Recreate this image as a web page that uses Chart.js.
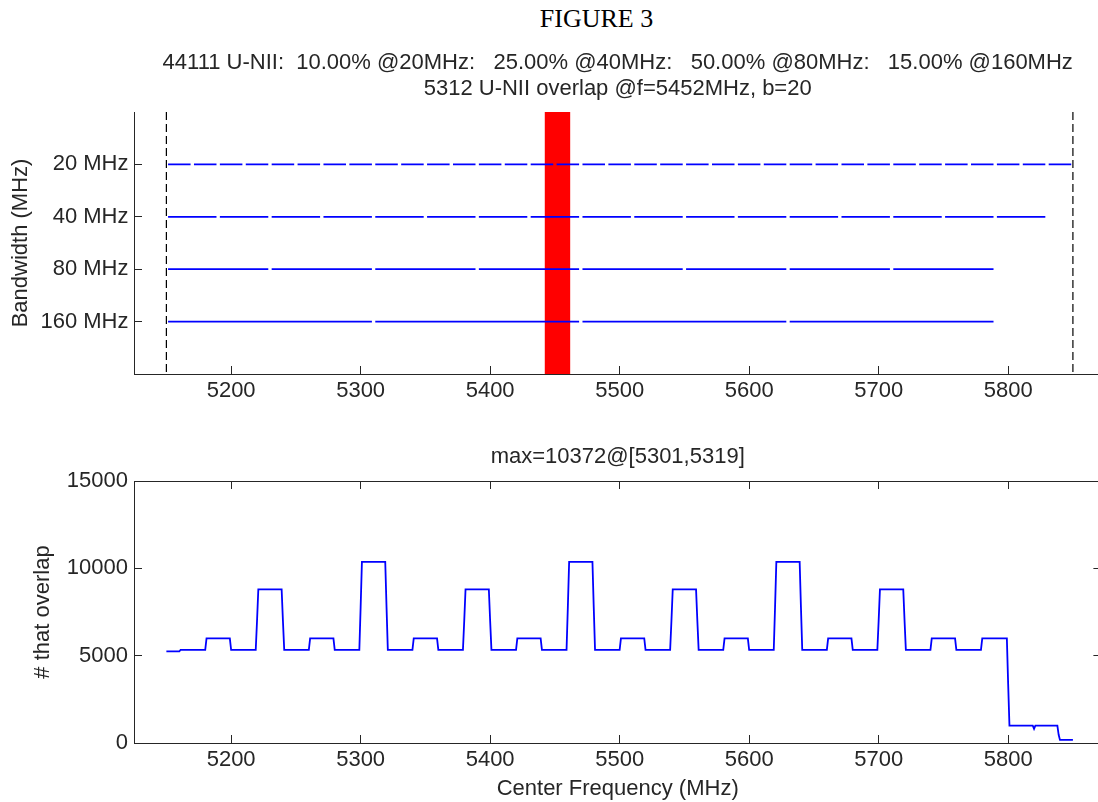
<!DOCTYPE html>
<html>
<head>
<meta charset="utf-8">
<title>FIGURE 3</title>
<script src="https://cdn.jsdelivr.net/npm/chart.js@4.4.1/dist/chart.umd.min.js"></script>
<style>
  html, body { margin: 0; padding: 0; background: #fff; overflow: hidden; }
  body { width: 1098px; height: 802px; position: relative; }
  #figTitle {
    position: absolute; left: 0; top: 4px; width: 1193px;
    text-align: center; color: #000;
    font: 26px/30px "Liberation Serif", "Times New Roman", serif;
  }
  .panel { position: absolute; left: 0; width: 1110px; }
  #bwPanel { top: 0; height: 410px; }
  #ovPanel { top: 410px; height: 392px; }
</style>
</head>
<body>
<div id="figTitle">FIGURE 3</div>
<div class="panel" id="bwPanel"><canvas id="bwChart"></canvas></div>
<div class="panel" id="ovPanel"><canvas id="ovChart"></canvas></div>

<script>
// ---- channel plan -------------------------------------------------------
const bandLabels = ["20 MHz", "40 MHz", "80 MHz", "160 MHz"];
const bandWidths = [20, 40, 80, 160];
const bandShare = [10, 25, 50, 15];          // % of combos per bandwidth
const totalCombos = 44111;
const overlapTotal = 5312;

// lower edge of each channel in the four rows (MHz)
const chan20 = [5150, 5170, 5190, 5210, 5230, 5250, 5270, 5290, 5310, 5330,
                5350, 5370, 5390, 5410, 5430, 5450, 5470, 5490, 5510, 5530,
                5550, 5570, 5590, 5610, 5630, 5650, 5670, 5690, 5710, 5730,
                5750, 5770, 5790, 5810, 5830];
const chan40 = [5150, 5190, 5230, 5270, 5310, 5350, 5390, 5430, 5470, 5510,
                5550, 5590, 5630, 5670, 5710, 5750, 5790];
const chan80 = [5150, 5230, 5310, 5390, 5470, 5550, 5630, 5710];
const chan160 = [5150, 5310, 5470, 5630];

const bandEdges = [5150, 5850];
const overlapCenter = 5452;
const overlapWidth = 20;

// ---- overlap count vs centre frequency ----------------------------------
const overlapFreq = [
  5150, 5160, 5161, 5180, 5181, 5199, 5200, 5219, 5220, 5221, 5239, 5240, 5241, 5260,
  5261, 5279, 5280, 5299, 5300, 5301, 5319, 5320, 5321, 5340,
  5341, 5359, 5360, 5379, 5380, 5381, 5399, 5400, 5401, 5420,
  5421, 5439, 5440, 5459, 5460, 5461, 5479, 5480, 5481, 5500,
  5501, 5519, 5520, 5539, 5540, 5541, 5559, 5560, 5561, 5580,
  5581, 5599, 5600, 5619, 5620, 5621, 5639, 5640, 5641, 5660,
  5661, 5679, 5680, 5699, 5700, 5701, 5719, 5720, 5721, 5740,
  5741, 5759, 5760, 5779, 5780, 5799, 5800, 5801, 5819, 5820, 5821, 5838, 5839, 5840, 5850
];
const overlapCount = [
  5240, 5240, 5335, 5335, 5990, 5990, 5335, 5335, 7000, 8800, 8800, 7000, 5335, 5335,
  5990, 5990, 5335, 5335, 7770, 10372, 10372, 7770, 5335, 5335,
  5990, 5990, 5335, 5335, 7000, 8800, 8800, 7000, 5335, 5335,
  5990, 5990, 5335, 5335, 7770, 10372, 10372, 7770, 5335, 5335,
  5990, 5990, 5335, 5335, 7000, 8800, 8800, 7000, 5335, 5335,
  5990, 5990, 5335, 5335, 7770, 10372, 10372, 7770, 5335, 5335,
  5990, 5990, 5335, 5335, 7000, 8800, 8800, 7000, 5335, 5335,
  5990, 5990, 5335, 5335, 5990, 5990, 3380, 995, 995, 810, 995, 995, 470, 175, 175
];

const freqTicks = [5200, 5300, 5400, 5500, 5600, 5700, 5800];
const countTicks = [0, 5000, 10000, 15000];
const freqMin = 5125, freqMax = 5872;

// ---- look ---------------------------------------------------------------
const ink = "#262626";
const family = '"Liberation Sans", Arial, sans-serif';
const font22 = { family: family, size: 22, weight: "normal", lineHeight: 1.2 };
const titleFont = { family: family, size: 22, weight: "normal", lineHeight: "26px" };
const segInset = 1.3;   // MHz trimmed off each end of a channel segment
const plain = (v) => String(v);   // no thousands separators on tick labels

const fixedTicks = (values) => (scale) => {
  scale.ticks = values.map((v) => ({ value: v }));
};

const axisGrid = { drawOnChartArea: false, tickLength: -8, color: ink, lineWidth: 1 };
const axisBorder = { display: true, color: ink, width: 1 };

// ---- top panel: channel rows ---------------------------------------------
const rowStarts = [chan20, chan40, chan80, chan160];
const rowSets = rowStarts.map((starts, i) => {
  const pts = [];
  starts.forEach((s) => {
    pts.push({ x: s + segInset, y: i + 1 });
    pts.push({ x: s + bandWidths[i] - segInset, y: i + 1 });
    pts.push({ x: s + bandWidths[i], y: null });
  });
  return {
    data: pts, borderColor: "#0000ff", borderWidth: 1.8,
    pointRadius: 0, fill: false, order: 1,
  };
});

const edgeSets = bandEdges.map((f) => ({
  data: [{ x: f, y: 0 }, { x: f, y: 5 }],
  borderColor: "#000", borderWidth: 1.2, borderDash: [8, 4],
  pointRadius: 0, fill: false, order: 0,
}));

const overlapBand = {
  data: [
    { x: overlapCenter - overlapWidth / 2, y: 5 },
    { x: overlapCenter + overlapWidth / 2, y: 5 },
  ],
  borderWidth: 0, pointRadius: 0,
  backgroundColor: "#ff0000", fill: { value: 0 }, order: 5,
};

const pct = (v) => v.toFixed(2) + "%";
const topTitle = [
  `${totalCombos} U-NII:  ${pct(bandShare[0])} @${bandWidths[0]}MHz:   ${pct(bandShare[1])} @${bandWidths[1]}MHz:   ` +
    `${pct(bandShare[2])} @${bandWidths[2]}MHz:   ${pct(bandShare[3])} @${bandWidths[3]}MHz`,
  `${overlapTotal} U-NII overlap @f=${overlapCenter}MHz, b=${overlapWidth}`,
];

new Chart(document.getElementById("bwChart"), {
  type: "line",
  data: { datasets: [...rowSets, ...edgeSets, overlapBand] },
  options: {
    animation: false,
    responsive: true,
    maintainAspectRatio: false,
    layout: { padding: { left: 0, right: 8.6, top: 0, bottom: 0 } },
    plugins: {
      legend: { display: false },
      tooltip: { enabled: false },
      title: {
        display: true, text: topTitle, fullSize: false, color: ink,
        font: titleFont, padding: { top: 50, bottom: 10 },
      },
    },
    scales: {
      x: {
        type: "linear", min: freqMin, max: freqMax,
        afterBuildTicks: fixedTicks(freqTicks),
        afterFit: (s) => { s.height = 36; },
        grid: axisGrid, border: axisBorder,
        ticks: { color: ink, font: font22, padding: 12, autoSkip: false, maxRotation: 0, callback: plain },
      },
      y: {
        type: "linear", min: 0, max: 5, reverse: true,
        afterBuildTicks: fixedTicks([1, 2, 3, 4]),
        afterFit: (s) => { s.width = 134; },
        grid: axisGrid, border: axisBorder,
        ticks: {
          color: ink, font: font22, padding: 13.5, autoSkip: false,
          callback: (v) => bandLabels[v - 1],
        },
        title: {
          display: true, text: "Bandwidth (MHz)", color: ink,
          font: titleFont, padding: { top: 8, bottom: 0 },
        },
      },
    },
  },
});

// ---- bottom panel: overlap count ------------------------------------------
const peak = Math.max(...overlapCount);
const peakAt = overlapCount.indexOf(peak);
const bottomTitle = `max=${peak}@[${overlapFreq[peakAt]},${overlapFreq[peakAt + 1]}]`;

const hiddenLabels = { display: false };

new Chart(document.getElementById("ovChart"), {
  type: "line",
  data: {
    datasets: [{
      data: overlapFreq.map((f, i) => ({ x: f, y: overlapCount[i] })),
      borderColor: "#0000ff", borderWidth: 1.8, pointRadius: 0, fill: false,
    }],
  },
  options: {
    animation: false,
    responsive: true,
    maintainAspectRatio: false,
    layout: { padding: { left: 0, right: 8.6, top: 0, bottom: 0 } },
    plugins: {
      legend: { display: false },
      tooltip: { enabled: false },
      title: {
        display: true, text: bottomTitle, fullSize: false, color: ink,
        font: titleFont, padding: { top: 34, bottom: 11 },
      },
    },
    scales: {
      x: {
        type: "linear", position: "bottom", min: freqMin, max: freqMax,
        afterBuildTicks: fixedTicks(freqTicks),
        afterFit: (s) => { s.height = 59; },
        grid: axisGrid, border: axisBorder,
        ticks: { color: ink, font: font22, padding: 12, autoSkip: false, maxRotation: 0, callback: plain },
        title: {
          display: true, text: "Center Frequency (MHz)", color: ink,
          font: titleFont, padding: { top: 0, bottom: 0 },
        },
      },
      xTop: {
        type: "linear", position: "top", min: freqMin, max: freqMax,
        afterBuildTicks: fixedTicks(freqTicks),
        afterFit: (s) => { s.height = 0; },
        grid: axisGrid, border: axisBorder, ticks: hiddenLabels,
      },
      y: {
        type: "linear", position: "left", min: 0, max: 15000,
        afterBuildTicks: fixedTicks(countTicks),
        afterFit: (s) => { s.width = 134; },
        grid: axisGrid, border: axisBorder,
        ticks: { color: ink, font: font22, padding: 14, autoSkip: false, callback: plain },
        title: {
          display: true, text: "# that overlap", color: ink,
          font: titleFont, padding: { top: 30, bottom: 0 },
        },
      },
      yRight: {
        type: "linear", position: "right", min: 0, max: 15000,
        afterBuildTicks: fixedTicks(countTicks),
        afterFit: (s) => { s.width = 0; },
        grid: axisGrid, border: axisBorder, ticks: hiddenLabels,
      },
    },
  },
});
</script>
</body>
</html>
